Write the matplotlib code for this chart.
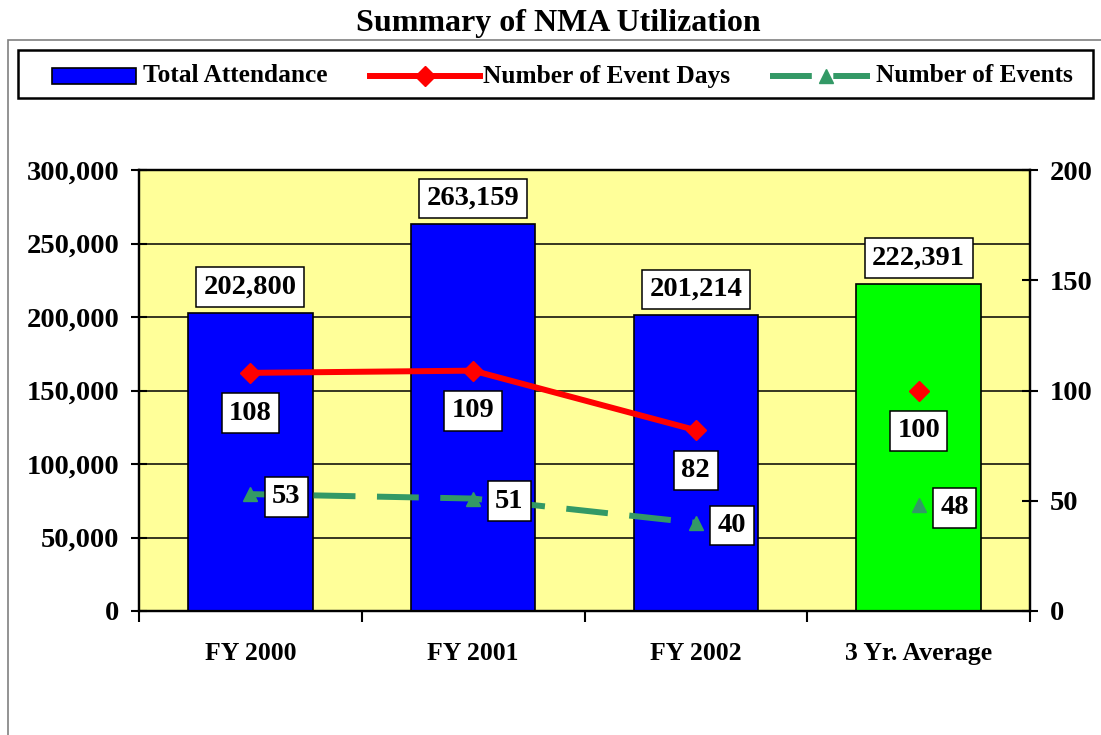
import matplotlib.pyplot as plt
from matplotlib.patches import Rectangle
from matplotlib.lines import Line2D
import numpy as np

categories = ["FY 2000", "FY 2001", "FY 2002", "3 Yr. Average"]
attendance = [202800, 263159, 201214, 222391]
event_days = [108, 109, 82, 100]
num_events = [53, 51, 40, 48]
bar_colors = ["#0000FF", "#0000FF", "#0000FF", "#00FF00"]

plt.rcParams['font.family'] = ['Liberation Serif', 'DejaVu Serif']
plt.rcParams['font.weight'] = 'bold'

W, H = 1101, 735
fig = plt.figure(figsize=(W / 100, H / 100), dpi=100)
fig.patch.set_facecolor('white')

def fx(px):
    return px / W

def fy(py):
    return 1 - py / H

# gray chart-area border
fig.patches.append(Rectangle((fx(8), -0.2), 1.5, fy(40) + 0.2,
                             transform=fig.transFigure, fill=False,
                             edgecolor='#808080', linewidth=1.2))

ax = fig.add_axes([fx(139), fy(611), (1030 - 139) / W, (611 - 170) / H])
ax.set_facecolor('#FFFF99')
x = np.arange(len(categories))

ax.bar(x, attendance, width=0.56, color=bar_colors, edgecolor='black',
       linewidth=1.2, zorder=3)
ax.set_xlim(-0.5, len(categories) - 0.5)
ax.set_ylim(0, 300000)
ax.set_yticks(np.arange(0, 300001, 50000))
ax.set_yticklabels([f"{v:,}" for v in range(0, 300001, 50000)])
ax.yaxis.grid(True, color='black', linewidth=1.1, zorder=0)
ax.set_axisbelow(True)
ax.set_xticks(x)
ax.set_xticklabels(categories)
ax.set_xticks(np.arange(-0.5, len(categories), 1.0), minor=True)
ax.tick_params(axis='x', which='major', length=0, pad=22, labelsize=18.5)
ax.tick_params(axis='x', which='minor', length=8, width=1.5, direction='out')
ax.tick_params(axis='y', length=12, width=1.5, direction='inout', pad=8, labelsize=20.5)
for s in ax.spines.values():
    s.set_linewidth(1.6)

box = dict(boxstyle='square,pad=0.26', facecolor='white', edgecolor='black', linewidth=1.1)
for i, v in enumerate(attendance):
    ax.annotate(f"{v:,}", (x[i], v), xytext=(0, 18.5), textcoords='offset points',
                ha='center', va='center', fontsize=20.5, bbox=box, zorder=6)

ax2 = ax.twinx()
ax2.set_ylim(0, 200)
ax2.set_yticks(np.arange(0, 201, 50))
ax2.tick_params(axis='y', length=12, width=1.5, direction='inout', pad=8, labelsize=20.5)
for s in ax2.spines.values():
    s.set_linewidth(1.6)

ax2.plot(x[:3], event_days[:3], color='#FF0000', linewidth=4.3, marker='D',
         markersize=10, zorder=4)
ax2.plot(x[3], event_days[3], color='#FF0000', marker='D', markersize=10,
         linestyle='none', zorder=4)
ax2.plot(x[:3], num_events[:3], color='#339966', linewidth=4.3, marker='^',
         markersize=10, dashes=(7, 3.6), zorder=4)
ax2.plot(x[3], num_events[3], color='#339966', marker='^', markersize=10,
         linestyle='none', zorder=4)

for i in range(len(categories)):
    ax2.annotate(str(event_days[i]), (x[i], event_days[i]), xytext=(0, -29),
                 textcoords='offset points', ha='center', va='center',
                 fontsize=20.5, bbox=box, zorder=6)
    ax2.annotate(str(num_events[i]), (x[i], num_events[i]), xytext=(26, -2),
                 textcoords='offset points', ha='center', va='center',
                 fontsize=20.5, bbox=box, zorder=6)

fig.text(fx(558), fy(23), "Summary of NMA Utilization", ha='center',
         va='center', fontsize=23)

# legend, drawn by hand
fig.patches.append(Rectangle((fx(18), fy(98)), (1093 - 18) / W, 48 / H,
                             transform=fig.transFigure, facecolor='white',
                             edgecolor='black', linewidth=1.8))
ly = fy(76)
fig.patches.append(Rectangle((fx(52), fy(84)), 84 / W, 16 / H,
                             transform=fig.transFigure, facecolor='#0000FF',
                             edgecolor='black', linewidth=1.2))
fig.lines.append(Line2D([fx(370), fx(425), fx(480)], [ly, ly, ly],
                        transform=fig.transFigure, color='#FF0000', linewidth=4.3,
                        marker='D', markersize=10, markevery=[1]))
fig.lines.append(Line2D([fx(770), fx(826), fx(870)], [ly, ly, ly],
                        transform=fig.transFigure, color='#339966', linewidth=4.3,
                        marker='^', markersize=10, markevery=[1], dashes=(7, 3.6)))
legend_labels = ["Total Attendance", "Number of Event Days", "Number of Events"]
legend_x = [143, 483, 876]
for lx, lab in zip(legend_x, legend_labels):
    fig.text(fx(lx), ly, lab, ha='left', va='center', fontsize=18.3)

fig.savefig("out.png", dpi=100)
